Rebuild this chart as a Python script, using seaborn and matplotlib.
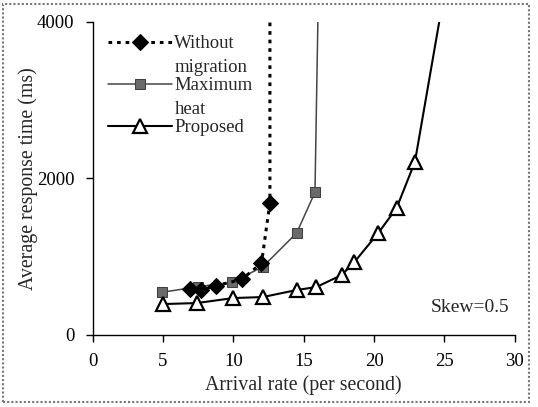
import matplotlib
matplotlib.use("Agg")
import matplotlib.pyplot as plt
import seaborn as sns
import pandas as pd
from matplotlib.patches import Rectangle

# ---- data ----
wm_x = [6.9, 7.7, 8.8, 10.6, 12.0, 12.6, 12.6]
wm_y = [579, 570, 625, 707, 912, 1686, 5000]
mh_x = [4.9, 7.5, 9.9, 12.1, 14.5, 15.8, 16.1]
mh_y = [540, 612, 668, 868, 1300, 1820, 5000]
pr_x = [5.0, 7.4, 10.0, 12.1, 14.5, 15.9, 17.7, 18.6, 20.3, 21.6, 22.9, 25.3]
pr_y = [390, 403, 467, 480, 570, 608, 762, 928, 1300, 1620, 2209, 4700]
labels = ["Without\nmigration", "Maximum\nheat", "Proposed"]
x_ticks = [0, 5, 10, 15, 20, 25, 30]
y_ticks = [0, 2000, 4000]

sns.set_style("white")
plt.rcParams["font.family"] = ["Liberation Serif", "DejaVu Serif"]

fig = plt.figure(figsize=(5.38, 4.07), dpi=100)
ax = fig.add_axes([0.172, 0.178, 0.785, 0.768])

wm = pd.DataFrame({"x": wm_x, "y": wm_y})
mh = pd.DataFrame({"x": mh_x, "y": mh_y})
pr = pd.DataFrame({"x": pr_x, "y": pr_y})

n_wm = len(wm_x) - 1
n_mh = len(mh_x) - 1
n_pr = len(pr_x) - 1

sns.lineplot(data=mh, x="x", y="y", ax=ax, estimator=None, sort=False,
             color="#454545", lw=1.1, marker="s", markersize=7,
             markerfacecolor="#6a6a6a", markeredgecolor="#404040",
             markevery=list(range(n_mh)), label=labels[1])
sns.lineplot(data=wm, x="x", y="y", ax=ax, estimator=None, sort=False,
             color="black", lw=2.2, dashes=(1.2, 1.6), marker="D", markersize=8,
             markerfacecolor="black", markeredgecolor="black",
             markevery=list(range(n_wm)), label=labels[0])
sns.lineplot(data=pr, x="x", y="y", ax=ax, estimator=None, sort=False,
             color="black", lw=1.5, marker="^", markersize=10,
             markerfacecolor="white", markeredgecolor="black", markeredgewidth=1.6,
             markevery=list(range(n_pr)), label=labels[2])

ax.set_xlim(0, 30)
ax.set_ylim(0, 4000)
ax.set_xticks(x_ticks)
ax.set_yticks(y_ticks)
ax.set_xticklabels([str(v) for v in x_ticks])
ax.set_yticklabels([str(v) for v in y_ticks])
ax.tick_params(axis="both", direction="out", length=5, width=1, labelsize=13.5,
               left=True, bottom=True, colors="black")
ax.tick_params(axis="x", pad=8)
ax.tick_params(axis="y", pad=8)
for s in ["top", "right"]:
    ax.spines[s].set_visible(False)
for s in ["left", "bottom"]:
    ax.spines[s].set_color("black")
    ax.spines[s].set_linewidth(1.0)

ax.set_xlabel("Arrival rate (per second)", fontsize=14.3, labelpad=4)
ax.set_ylabel("Average response time (ms)", fontsize=14.3, labelpad=-1)

ax.text(0.988, 0.085, "Skew=0.5", transform=ax.transAxes, ha="right",
        va="center", fontsize=14)

handles, labs = ax.get_legend_handles_labels()
order = [labs.index(l) for l in labels]
leg = ax.legend([handles[i] for i in order], [labs[i] for i in order],
                loc="upper left", bbox_to_anchor=(0.005, 1.0), frameon=False,
                fontsize=13.5, handlelength=3.4, handletextpad=0.15,
                labelspacing=0.05, borderaxespad=0.3)
for col in leg._legend_handle_box.get_children():
    for item in col.get_children():
        item.align = "top"
for t in leg.get_texts():
    t.set_linespacing(1.55)

fig.patches.append(Rectangle((0.006, 0.012), 0.978, 0.978, transform=fig.transFigure,
                             fill=False, edgecolor="#777777", lw=1.5,
                             linestyle=(0, (1, 1))))

fig.savefig("out.png", dpi=100)
